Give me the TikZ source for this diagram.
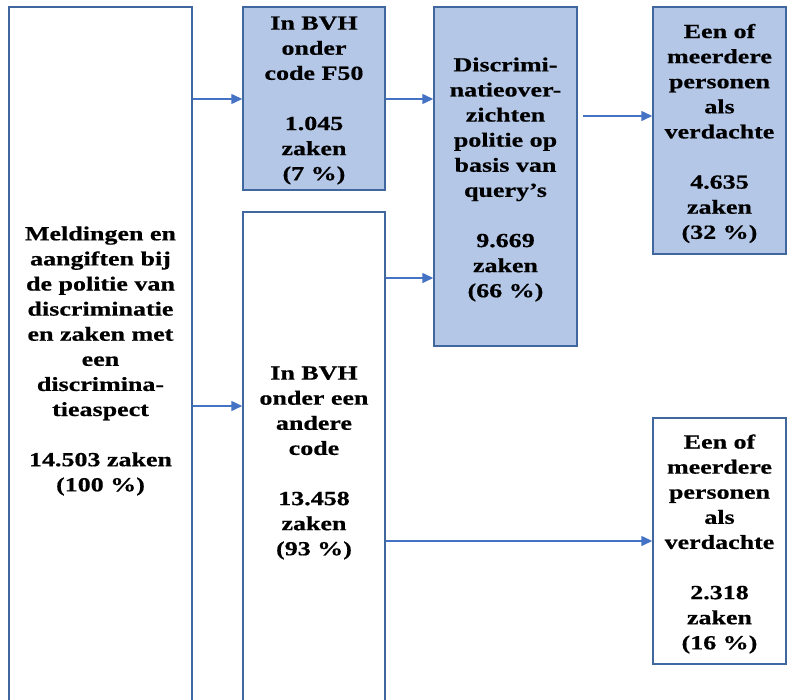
\documentclass[tikz,border=0pt]{standalone}
\usepackage{fontspec}
\setmainfont{Liberation Serif}[FakeStretch=1.3,FakeBold=0.6]
\usetikzlibrary{arrows.meta}
\definecolor{edgeblue}{HTML}{41679F}
\definecolor{arrowblue}{HTML}{4472C4}
\definecolor{fillblue}{HTML}{B4C7E7}
\tikzset{
  box/.style={draw=edgeblue, line width=1.5pt, inner sep=0pt},
  filledbox/.style={box, fill=fillblue},
  txt/.style={inner sep=0pt, align=center,
    font=\fontsize{20}{25.1}\selectfont\bfseries, text=black},
  arr/.style={draw=arrowblue, line width=1.5pt, -{Triangle[length=11pt,width=10pt]}}
}
\begin{document}
\begin{tikzpicture}[x=1pt,y=-1pt]
\useasboundingbox (0,0) rectangle (787,699);
\clip (0,0) rectangle (787,699);
\fill[white] (0,0) rectangle (787,699);
\node[box, minimum width=183pt, minimum height=702pt] (A) at (100.5,358) {};
\node[filledbox, minimum width=142pt, minimum height=183pt] (B) at (314,98.5) {};
\node[box, minimum width=142pt, minimum height=496pt] (C) at (314,460) {};
\node[filledbox, minimum width=143pt, minimum height=339pt] (D) at (505.5,176.5) {};
\node[filledbox, minimum width=133pt, minimum height=247pt] (E) at (719.5,130.5) {};
\node[box, minimum width=133pt, minimum height=246pt] (F) at (719.5,541) {};
\node[txt] (At) at ([yshift=-3pt]A.center)
  {Meldingen en\\aangiften bij\\de politie van\\discriminatie\\en zaken met\\een\\discrimina-\\tieaspect\\~\\14.503 zaken\\(100 \%)};
\node[txt] (Bt) at ([yshift=-2pt]B.center)
  {In BVH\\onder\\code F50\\~\\1.045\\zaken\\(7 \%)};
\node[txt] (Ct) at ([yshift=-3pt]C.center)
  {In BVH\\onder een\\andere\\code\\~\\13.458\\zaken\\(93 \%)};
\node[txt] (Dt) at ([yshift=-3pt]D.center)
  {Discrimi-\\natieover-\\zichten\\politie op\\basis van\\query’s\\~\\9.669\\zaken\\(66 \%)};
\node[txt] (Et) at ([yshift=-3pt]E.center)
  {Een of\\meerdere\\personen\\als\\verdachte\\~\\4.635\\zaken\\(32 \%)};
\node[txt] (Ft) at ([yshift=-3pt]F.center)
  {Een of\\meerdere\\personen\\als\\verdachte\\~\\2.318\\zaken\\(16 \%)};
\coordinate (yAB) at (0,99);
\coordinate (yAC) at (0,406);
\coordinate (yCD) at (0,278);
\coordinate (yDE) at (0,116);
\draw[arr] (A.east |- yAB) -- (B.west |- yAB);
\draw[arr] (A.east |- yAC) -- (C.west |- yAC);
\draw[arr] (B.east |- yAB) -- (D.west |- yAB);
\draw[arr] (C.east |- yCD) -- (D.west |- yCD);
\draw[arr] ([xshift=5pt]D.east |- yDE) -- (E.west |- yDE);
\draw[arr] (C.east |- F.west) -- (F.west);
\end{tikzpicture}
\end{document}
